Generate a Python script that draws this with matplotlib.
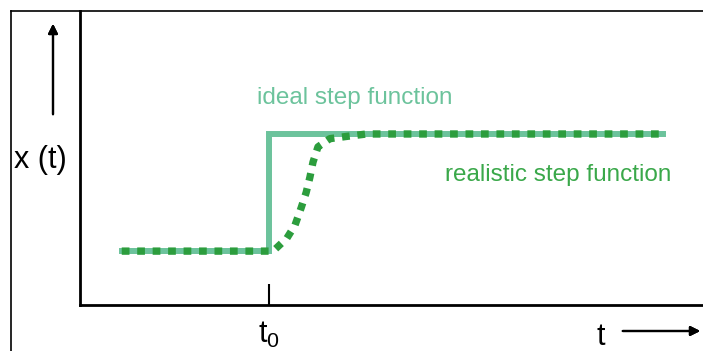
import matplotlib.pyplot as plt
from matplotlib.lines import Line2D

plt.rcParams['font.family'] = ['Liberation Sans', 'DejaVu Sans']

# ideal step: jumps at t0
ideal_t = [0.67, 3.03, 3.03, 9.35]
ideal_x = [0.0, 0.0, 1.0, 1.0]

# realistic step: smooth rise after t0
real_t = [0.67, 3.03, 3.12, 3.32, 3.45, 3.55, 3.63, 3.69, 3.74, 3.82, 4.01, 4.29, 4.6, 9.35]
real_x = [0.0, 0.0, 0.01, 0.11, 0.22, 0.37, 0.50, 0.63, 0.76, 0.89, 0.96, 0.98, 1.0, 1.0]

t0 = 3.03
tick_labels = [r'$\mathregular{t_0}$']

fig = plt.figure(figsize=(7.03, 3.51), dpi=100)

# outer frame (left and top edges only, rest is cropped)
fig.add_artist(Line2D([11/703, 11/703], [0, 1 - 11/351], color='black', lw=1.2))
fig.add_artist(Line2D([11/703, 1], [1 - 11/351, 1 - 11/351], color='black', lw=1.2))

ax = fig.add_axes([80/703, 46/351, 623/703, 294/351])
ax.plot(ideal_t, ideal_x, color='#6cc39c', lw=4.3, solid_joinstyle='miter', zorder=2)
ax.plot(real_t, real_x, color='#2c9d3d', lw=5.3, dashes=(1.05, 1.05),
        dash_capstyle='butt', zorder=3)

ax.set_xlim(0, 10)
ax.set_ylim(-0.46, 2.05)
ax.spines['top'].set_visible(False)
ax.spines['right'].set_visible(False)
ax.spines['left'].set_linewidth(2)
ax.spines['bottom'].set_linewidth(2)
ax.set_yticks([])
ax.set_xticks([t0])
ax.set_xticklabels(tick_labels, fontsize=22)
ax.tick_params(axis='x', direction='in', length=15, width=1.5, pad=11)

ax.text(4.41, 1.31, 'ideal step function', color='#6cc39c', fontsize=17.5, ha='center', va='center')
ax.text(5.86, 0.65, 'realistic step function', color='#3aa84a', fontsize=17.5, ha='left', va='center')

# axis labels with arrows, in figure pixels
fig.text(40/703, 1 - 160/351, 'x (t)', fontsize=22, ha='center', va='center')
fig.add_artist(plt.annotate('', xy=(53/703, 1 - 21/351), xytext=(53/703, 1 - 117/351),
                            xycoords='figure fraction',
                            arrowprops=dict(arrowstyle='-|>', color='black', lw=1.6,
                                            mutation_scale=14)))
fig.text(601/703, 1 - 337/351, 't', fontsize=22, ha='center', va='center')
fig.add_artist(plt.annotate('', xy=(703/703, 1 - 331/351), xytext=(620/703, 1 - 331/351),
                            xycoords='figure fraction',
                            arrowprops=dict(arrowstyle='-|>', color='black', lw=1.6,
                                            mutation_scale=14)))

fig.savefig('out.png', dpi=100)
